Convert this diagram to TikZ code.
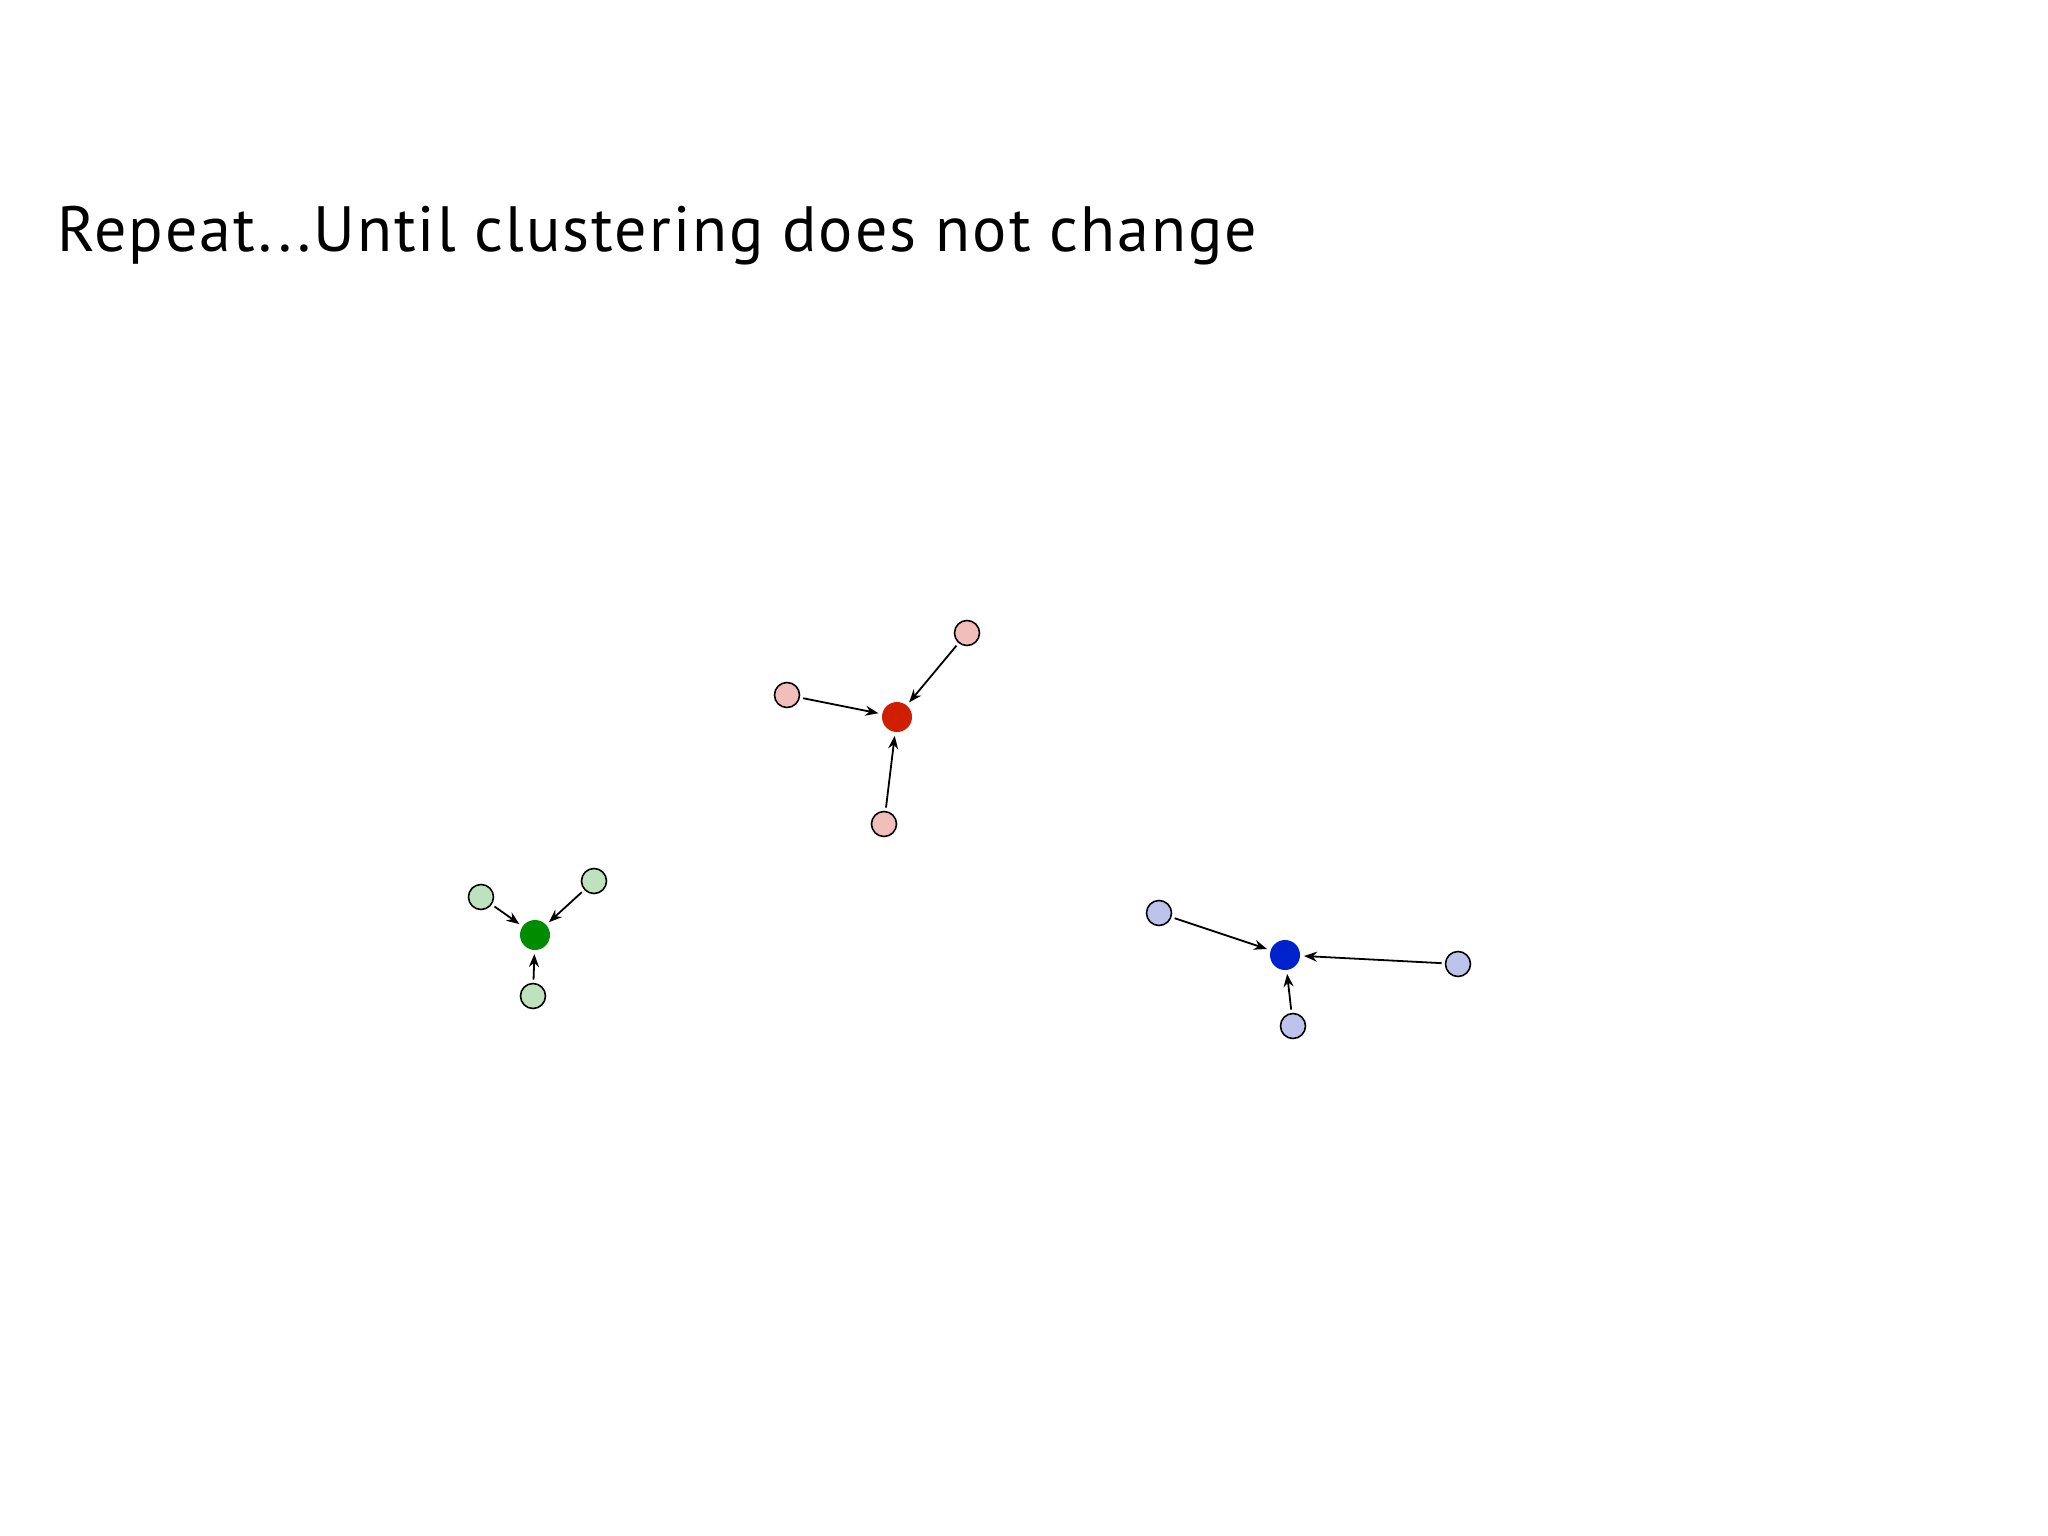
\documentclass[tikz,border=0pt]{standalone}
\usepackage{fontspec}
\setmainfont{PT Sans}
\usetikzlibrary{arrows.meta}
\definecolor{pinkl}{RGB}{242,190,188}
\definecolor{redc}{RGB}{208,30,0}
\definecolor{greenl}{RGB}{190,225,190}
\definecolor{greenc}{RGB}{0,140,0}
\definecolor{bluel}{RGB}{190,195,238}
\definecolor{bluec}{RGB}{0,34,204}
\tikzset{
  leaf/.style={circle,draw=black,line width=1.6pt,minimum size=25pt,inner sep=0pt,outer sep=4pt},
  centre/.style={circle,minimum size=30pt,inner sep=0pt,outer sep=4pt},
  link/.style={-{Stealth[length=13pt,width=10pt]},line width=1.8pt}
}
\begin{document}
\begin{tikzpicture}[x=1pt,y=-1pt]
\useasboundingbox[fill=white] (0,0) rectangle (2048,1536);
\node[anchor=base west,inner sep=0pt,font=\fontsize{64}{70}\selectfont\addfontfeatures{LetterSpace=3.1}] (title) at (57,251) {Repeat...Until clustering does not change};
% red cluster
\node[centre,fill=redc] (rc) at (897,717) {};
\node[leaf,fill=pinkl] (r1) at (967,633) {};
\node[leaf,fill=pinkl] (r2) at (787,695) {};
\node[leaf,fill=pinkl] (r3) at (884,824) {};
\draw[link] (r1) -- (rc);
\draw[link] (r2) -- (rc);
\draw[link] (r3) -- (rc);
% green cluster
\node[centre,fill=greenc] (gc) at (535,935) {};
\node[leaf,fill=greenl] (g1) at (481,897) {};
\node[leaf,fill=greenl] (g2) at (594,881) {};
\node[leaf,fill=greenl] (g3) at (533,996) {};
\draw[link] (g1) -- (gc);
\draw[link] (g2) -- (gc);
\draw[link] (g3) -- (gc);
% blue cluster
\node[centre,fill=bluec] (bc) at (1285,955) {};
\node[leaf,fill=bluel] (b1) at (1159,913) {};
\node[leaf,fill=bluel] (b2) at (1458,964) {};
\node[leaf,fill=bluel] (b3) at (1293,1026) {};
\draw[link] (b1) -- (bc);
\draw[link] (b2) -- (bc);
\draw[link] (b3) -- (bc);
\end{tikzpicture}
\end{document}
